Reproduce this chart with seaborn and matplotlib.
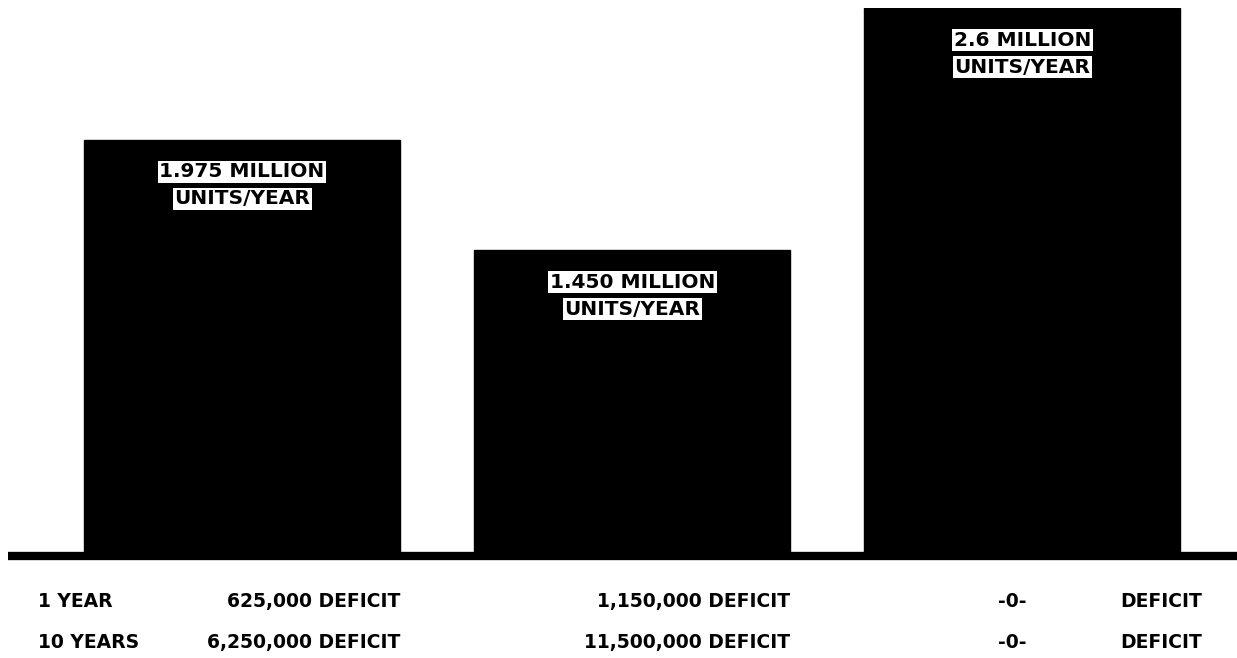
import matplotlib
matplotlib.use("Agg")
import matplotlib.pyplot as plt
import seaborn as sns
import pandas as pd

# Datos del gráfico
escenarios = ["A", "B", "C"]
unidades_millones = [1.975, 1.450, 2.6]
etiqueta_linea1 = ["1.975 MILLION", "1.450 MILLION", "2.6 MILLION"]
etiqueta_linea2 = ["UNITS/YEAR", "UNITS/YEAR", "UNITS/YEAR"]
filas = ["1 YEAR", "10 YEARS"]
deficit_1 = ["625,000", "1,150,000", "-0-"]
deficit_10 = ["6,250,000", "11,500,000", "-0-"]

df = pd.DataFrame({"escenario": escenarios, "unidades": unidades_millones})

sns.set_style("white")
plt.rcParams["font.family"] = ["DejaVu Sans"]

fig = plt.figure(figsize=(12.37, 6.58), dpi=100)
ax = fig.add_axes([8 / 1237, 102 / 658, 1 - 8 / 1237, 548 / 658])

sns.barplot(data=df, x="escenario", y="unidades", color="black",
            width=0.81, saturation=1, ax=ax)
for p in ax.patches:
    p.set_edgecolor("black")

ax.set_xlim(-0.6, 2.55)
ax.set_ylim(0, 2.6)
ax.axis("off")
ax.axhline(0, color="black", lw=6, clip_on=False, solid_capstyle="butt")

# Etiquetas dentro de las barras
caja = dict(boxstyle="square,pad=0.08", fc="white", ec="none")
for i, v in enumerate(unidades_millones):
    ax.annotate(etiqueta_linea1[i], xy=(i, v), xytext=(0, -32),
                textcoords="offset pixels", ha="center", va="center",
                fontsize=14.5, fontweight="bold", color="black", bbox=caja)
    ax.annotate(etiqueta_linea2[i], xy=(i, v), xytext=(0, -59),
                textcoords="offset pixels", ha="center", va="center",
                fontsize=14.5, fontweight="bold", color="black", bbox=caja)

# Tabla de déficit debajo
tr = ax.get_xaxis_transform()
y_filas = [-0.083, -0.158]
estilo = dict(fontsize=13.5, fontweight="bold", color="black", va="center")
for fila, y in zip(filas, y_filas):
    ax.text(-0.523, y, fila, transform=tr, ha="left", **estilo)

for j, valores in enumerate([deficit_1, deficit_10]):
    y = y_filas[j]
    for i in range(2):
        ax.text(i + 0.405, y, valores[i] + " DEFICIT", transform=tr,
                ha="right", **estilo)
    ax.text(1.974, y, valores[2], transform=tr, ha="center", **estilo)
    ax.text(2.251, y, "DEFICIT", transform=tr, ha="left", **estilo)

fig.savefig("out.png", dpi=100, facecolor="white")
